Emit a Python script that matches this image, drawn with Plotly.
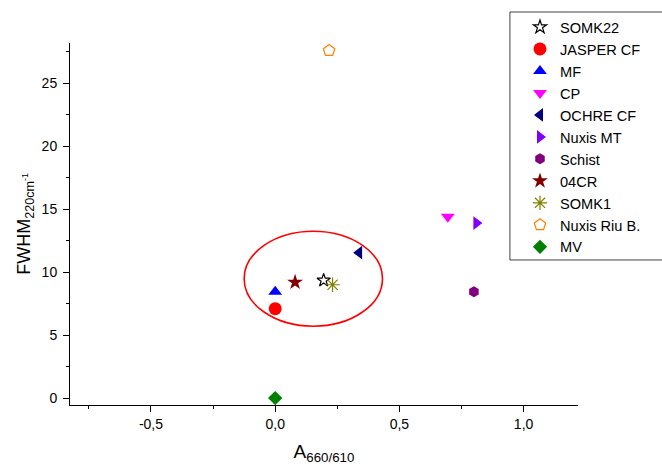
import plotly.graph_objects as go

# Sample names and their measured values
samples = ["SOMK22", "JASPER CF", "MF", "CP", "OCHRE CF", "Nuxis MT",
           "Schist", "04CR", "SOMK1", "Nuxis Riu B.", "MV"]
a_ratio = [0.195, 0.0, 0.0, 0.695, 0.338, 0.81, 0.80, 0.08, 0.231, 0.217, 0.0]
fwhm = [9.35, 7.1, 8.45, 14.4, 11.55, 13.9, 8.45, 9.2, 9.0, 27.6, 0.0]

# Marker styling per sample
symbols = ["star-open", "circle", "triangle-up", "triangle-down", "triangle-left",
           "triangle-right", "hexagon", "star", "asterisk-open", "pentagon-open", "diamond"]
colors = ["#000000", "#FF0000", "#0000FF", "#FF00FF", "#000080", "#8000FF",
          "#800080", "#800000", "#808000", "#FF8000", "#008000"]
sizes = [10, 13, 12, 12, 12, 12, 11, 12, 12, 12, 11]

# Highlighted cluster (ellipse bounds in data units)
cluster_x = [-0.125, 0.432]
cluster_y = [5.71, 13.25]

x_ticks = [-0.5, 0.0, 0.5, 1.0]
x_tick_text = ["-0,5", "0,0", "0,5", "1,0"]
y_ticks = [0, 5, 10, 15, 20, 25]

FONT = "Arial, Liberation Sans, sans-serif"

fig = go.Figure()
for name, x, y, sym, col, sz in zip(samples, a_ratio, fwhm, symbols, colors, sizes):
    open_sym = sym.endswith("-open")
    fig.add_trace(go.Scatter(
        x=[x], y=[y], mode="markers", name=name,
        marker=dict(symbol=sym, color=col, size=sz,
                    line=dict(color=col, width=1.2 if open_sym else 0)),
    ))

fig.add_shape(type="circle", xref="x", yref="y",
              x0=cluster_x[0], x1=cluster_x[1], y0=cluster_y[0], y1=cluster_y[1],
              line=dict(color="#FF0000", width=1.6))

# Legend frame
fig.add_shape(type="rect", xref="paper", yref="paper", layer="below",
              x0=0.866, x1=1.35, y0=0.4006, y1=1.0856,
              fillcolor="white", line=dict(color="#404040", width=1))

axis_common = dict(
    showline=True, linecolor="black", linewidth=1, mirror=False,
    showgrid=False, zeroline=False, ticks="outside", ticklen=6, tickwidth=1,
    tickcolor="black", tickfont=dict(family=FONT, size=14, color="black"),
    automargin=False,
)

fig.update_xaxes(
    range=[-0.826, 1.219], tickvals=x_ticks, ticktext=x_tick_text,
    minor=dict(ticks="outside", ticklen=3, tickcolor="black", dtick=0.25, tick0=0),
    title=dict(text="A<sub>660/610</sub>", font=dict(family=FONT, size=19, color="black"),
               standoff=13),
    **axis_common,
)
fig.update_yaxes(
    range=[-0.55, 28.2], tickvals=y_ticks, ticklabelstandoff=3,
    minor=dict(ticks="outside", ticklen=3, tickcolor="black", dtick=2.5, tick0=0),
    title=dict(text="FWHM<sub>220cm<sup>-1</sup></sub>",
               font=dict(family=FONT, size=18, color="black"), standoff=6),
    **axis_common,
)

fig.update_layout(
    width=662, height=466,
    margin=dict(l=70, r=84, t=43, b=61, autoexpand=False),
    paper_bgcolor="white", plot_bgcolor="white",
    font=dict(family=FONT, color="black"),
    showlegend=True,
    legend=dict(
        x=0.8858, xref="paper", xanchor="left",
        y=0.9764, yref="container", yanchor="top",
        maxheight=440,
        bgcolor="rgba(0,0,0,0)", borderwidth=0,
        font=dict(family=FONT, size=14.6, color="black"),
        tracegroupgap=0, itemsizing="trace",
    ),
)

fig.write_html("out.html")
